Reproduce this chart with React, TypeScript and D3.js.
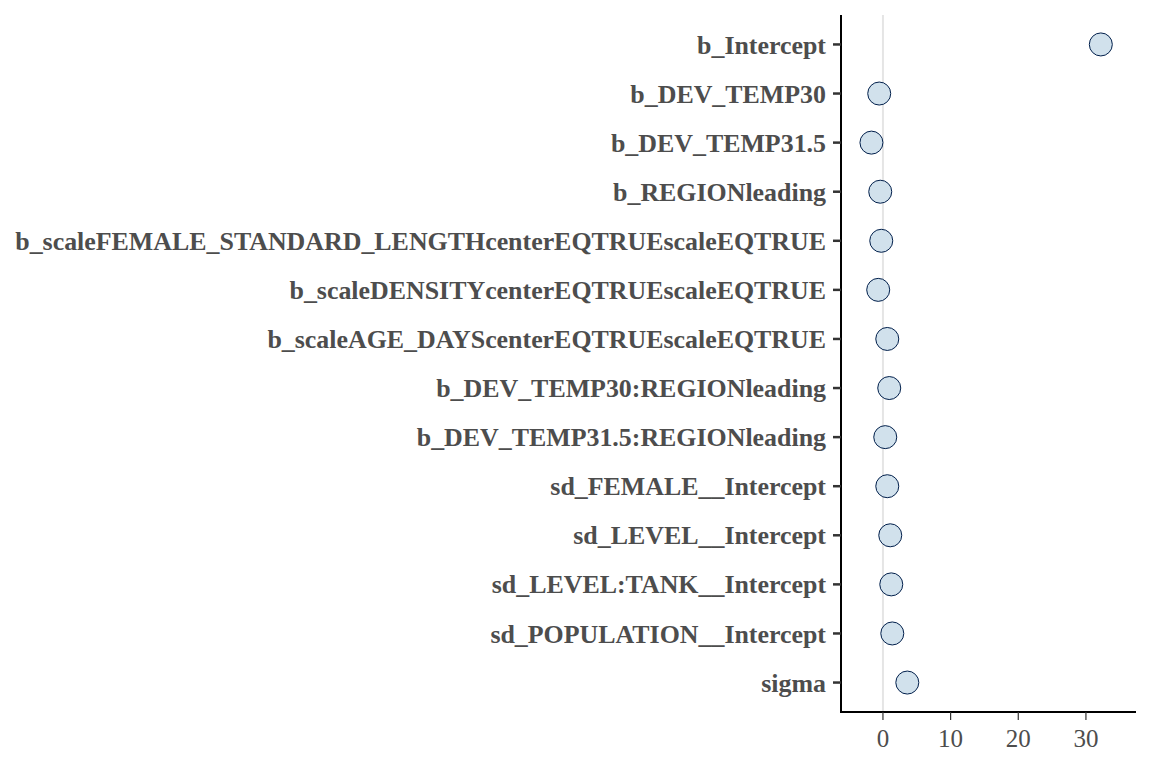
import React, { FC, useMemo } from 'react'
import * as d3 from 'd3'

const terms = [
	'b_Intercept',
	'b_DEV_TEMP30',
	'b_DEV_TEMP31.5',
	'b_REGIONleading',
	'b_scaleFEMALE_STANDARD_LENGTHcenterEQTRUEscaleEQTRUE',
	'b_scaleDENSITYcenterEQTRUEscaleEQTRUE',
	'b_scaleAGE_DAYScenterEQTRUEscaleEQTRUE',
	'b_DEV_TEMP30:REGIONleading',
	'b_DEV_TEMP31.5:REGIONleading',
	'sd_FEMALE__Intercept',
	'sd_LEVEL__Intercept',
	'sd_LEVEL:TANK__Intercept',
	'sd_POPULATION__Intercept',
	'sigma'
]
const estimates = [32.2, -0.55, -1.7, -0.4, -0.25, -0.7, 0.64, 0.93, 0.34, 0.64, 1.08, 1.23, 1.38, 3.6]
const xTicks = [0, 10, 20, 30]

const W = 1152
const H = 768
const left = 841
const right = 1136
const top = 15
const bottom = 712
const font = "'Liberation Serif', 'Times New Roman', serif"

const App: FC = () => {
	const x = useMemo(() => d3.scaleLinear().domain([-6.2, 37.4]).range([left, right]), [])
	const y = useMemo(
		() =>
			d3
				.scalePoint<string>()
				.domain(terms)
				.range([top, bottom])
				.padding(0.6),
		[]
	)

	return (
		<svg
			width={W}
			height={H}
			style={{ position: 'absolute', left: 0, top: 0, background: '#fff' }}
		>
			{/* zero reference line */}
			<line x1={x(0)} x2={x(0)} y1={top} y2={bottom} stroke="#e5e5e5" strokeWidth={2} />

			{/* y axis */}
			<line x1={left} x2={left} y1={top} y2={bottom + 1} stroke="#000" strokeWidth={2} />
			{terms.map(t => (
				<g key={t} transform={`translate(0, ${y(t)})`}>
					<line x1={left - 8} x2={left} stroke="#333" strokeWidth={2.5} />
					<text
						x={left - 15}
						dy="0.35em"
						textAnchor="end"
						fontFamily={font}
						fontWeight="bold"
						fontSize={25.9}
						fill="#4d4d4d"
					>
						{t}
					</text>
				</g>
			))}

			{/* x axis */}
			<line x1={left - 1} x2={right} y1={bottom} y2={bottom} stroke="#000" strokeWidth={2} />
			{xTicks.map(v => (
				<g key={v} transform={`translate(${x(v)}, ${bottom})`}>
					<line y1={0} y2={8} stroke="#333" strokeWidth={1.2} />
					<text
						y={26}
						dy="0.35em"
						textAnchor="middle"
						fontFamily={font}
						fontSize={25}
						fill="#4d4d4d"
					>
						{v}
					</text>
				</g>
			))}

			{/* points */}
			{terms.map((t, i) => (
				<circle
					key={t}
					cx={x(estimates[i])}
					cy={y(t)}
					r={11.5}
					fill="#d1e1ec"
					stroke="#011f4b"
					strokeWidth={1}
				/>
			))}
		</svg>
	)
}

export default App
